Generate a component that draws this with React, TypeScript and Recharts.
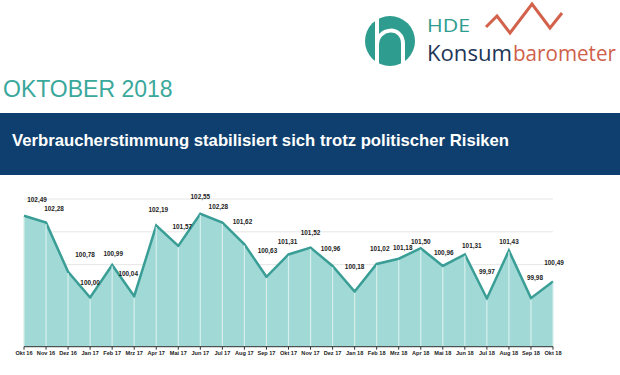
import React from 'react';
import {
  AreaChart,
  Area,
  XAxis,
  YAxis,
  CartesianGrid,
  ReferenceLine,
  LabelList,
} from 'recharts';

const months = [
  'Okt 16', 'Nov 16', 'Dez 16', 'Jan 17', 'Feb 17', 'Mrz 17', 'Apr 17', 'Mai 17', 'Jun 17',
  'Jul 17', 'Aug 17', 'Sep 17', 'Okt 17', 'Nov 17', 'Dez 17', 'Jan 18', 'Feb 18', 'Mrz 18',
  'Apr 18', 'Mai 18', 'Jun 18', 'Jul 18', 'Aug 18', 'Sep 18', 'Okt 18',
];

const values = [
  102.49, 102.28, 100.78, 100.0, 100.99, 100.04, 102.19, 101.57, 102.55,
  102.28, 101.62, 100.63, 101.31, 101.52, 100.96, 100.18, 101.02, 101.18,
  101.5, 100.96, 101.31, 99.97, 101.43, 99.98, 100.49,
];

const yTicks = [98.5, 99, 99.5, 100, 100.5, 101, 101.5, 102, 102.5, 103];
const yMin = 98.5;

// label placement tweaks (dx, dy) relative to each point
const labelOffsets: [number, number][] = [
  [13, -16], [8, -14], [17, -17], [0, -15], [1, -11], [-6, -23], [2, -16], [4, -19], [0, -17],
  [-4, -16], [-2, -23], [1, -26], [-1, -13], [0, -15], [-2, -17], [0, -25], [3, -15], [4, -11],
  [0, -7], [1, -13], [7, -9], [0, -27], [0, -9], [4, -21], [1, -19],
];

const data = months.map((m, i) => ({ month: m, value: values[i] }));

const fmt = (v: number) => v.toFixed(2).replace('.', ',');

const ValueLabel = (props: any) => {
  const { x, y, value, index } = props;
  const [dx, dy] = labelOffsets[index] || [0, -15];
  return (
    <text
      x={x + dx}
      y={y + dy}
      textAnchor="middle"
      dominantBaseline="central"
      fontFamily="'Liberation Sans', Arial, sans-serif"
      fontWeight={700}
      fontSize={6.4}
      fill="#222"
    >
      {fmt(Number(value))}
    </text>
  );
};

export default function App() {
  return (
    <div
      style={{
        position: 'absolute',
        left: 0,
        top: 0,
        width: 620,
        height: 375,
        background: '#fff',
        overflow: 'hidden',
        fontFamily: "'Liberation Sans', Arial, sans-serif",
      }}
    >
      {/* Logo */}
      <svg width={620} height={72} style={{ position: 'absolute', left: 0, top: 0 }}>
        <circle cx={390} cy={41} r={25} fill="#2e9c8e" />
        <path d="M377 16 L377 65" stroke="#fff" strokeWidth={4} fill="none" />
        <path d="M377 45 C377 27, 403 25, 403 44 L403 63" stroke="#fff" strokeWidth={4} fill="none" />
        <text x={427} y={32} fontFamily="'Open Sans', sans-serif" fontSize={19} fill="#2e9c8e" textLength={43} lengthAdjust="spacingAndGlyphs">
          HDE
        </text>
        <polyline
          points="486,27 497,16 510,33 532,4 550,28 562,13"
          fill="none"
          stroke="#d3624c"
          strokeWidth={3}
          strokeLinejoin="miter"
        />
        <text x={427} y={61} fontFamily="'Open Sans', sans-serif" fontSize={21} fill="#1e3657" textLength={85} lengthAdjust="spacingAndGlyphs">
          Konsum
        </text>
        <text x={513} y={61} fontFamily="'Open Sans', sans-serif" fontSize={21} fill="#cf604b" textLength={103} lengthAdjust="spacingAndGlyphs">
          barometer
        </text>
      </svg>

      {/* Month title */}
      <div
        style={{
          position: 'absolute',
          left: 3,
          top: 76,
          fontSize: 23,
          lineHeight: '26px',
          color: '#3aa89b',
          whiteSpace: 'nowrap',
        }}
      >
        OKTOBER 2018
      </div>

      {/* Banner */}
      <div
        style={{
          position: 'absolute',
          left: 0,
          top: 113,
          width: 620,
          height: 62,
          background: '#0e3f6e',
        }}
      >
        <div
          style={{
            position: 'absolute',
            left: 12,
            top: 18,
            fontSize: 16.7,
            fontWeight: 700,
            lineHeight: '20px',
            color: '#fff',
            whiteSpace: 'nowrap',
          }}
        >
          Verbraucherstimmung stabilisiert sich trotz politischer Risiken
        </div>
      </div>

      {/* Chart */}
      <div style={{ position: 'absolute', left: 0, top: 180 }}>
        <AreaChart
          width={620}
          height={195}
          data={data}
          margin={{ top: 19, right: 67, left: 24, bottom: 0 }}
        >
          <CartesianGrid vertical={false} stroke="#e6e6e6" strokeWidth={1} />
          <YAxis hide domain={[yMin, 103]} ticks={yTicks} type="number" />
          <XAxis
            dataKey="month"
            height={28.3}
            interval={0}
            tickSize={3}
            tickMargin={1.5}
            axisLine={{ stroke: '#333', strokeWidth: 1 }}
            tickLine={{ stroke: '#333', strokeWidth: 1 }}
            tick={{
              fontSize: 5.6,
              fontWeight: 700,
              fill: '#222',
              fontFamily: "'Liberation Sans', Arial, sans-serif",
            }}
          />
          <Area
            type="linear"
            dataKey="value"
            stroke="#3a9e96"
            strokeWidth={2.5}
            fill="#a0d9d5"
            fillOpacity={1}
            baseValue={yMin}
            isAnimationActive={false}
            dot={false}
            activeDot={false}
          >
            <LabelList dataKey="value" content={ValueLabel} />
          </Area>
          {data.map((d) => (
            <ReferenceLine
              key={d.month}
              segment={[
                { x: d.month, y: yMin },
                { x: d.month, y: d.value - 0.04 },
              ]}
              stroke="#d6efed"
              strokeWidth={1.2}
              ifOverflow="visible"
            />
          ))}
        </AreaChart>
      </div>
    </div>
  );
}
